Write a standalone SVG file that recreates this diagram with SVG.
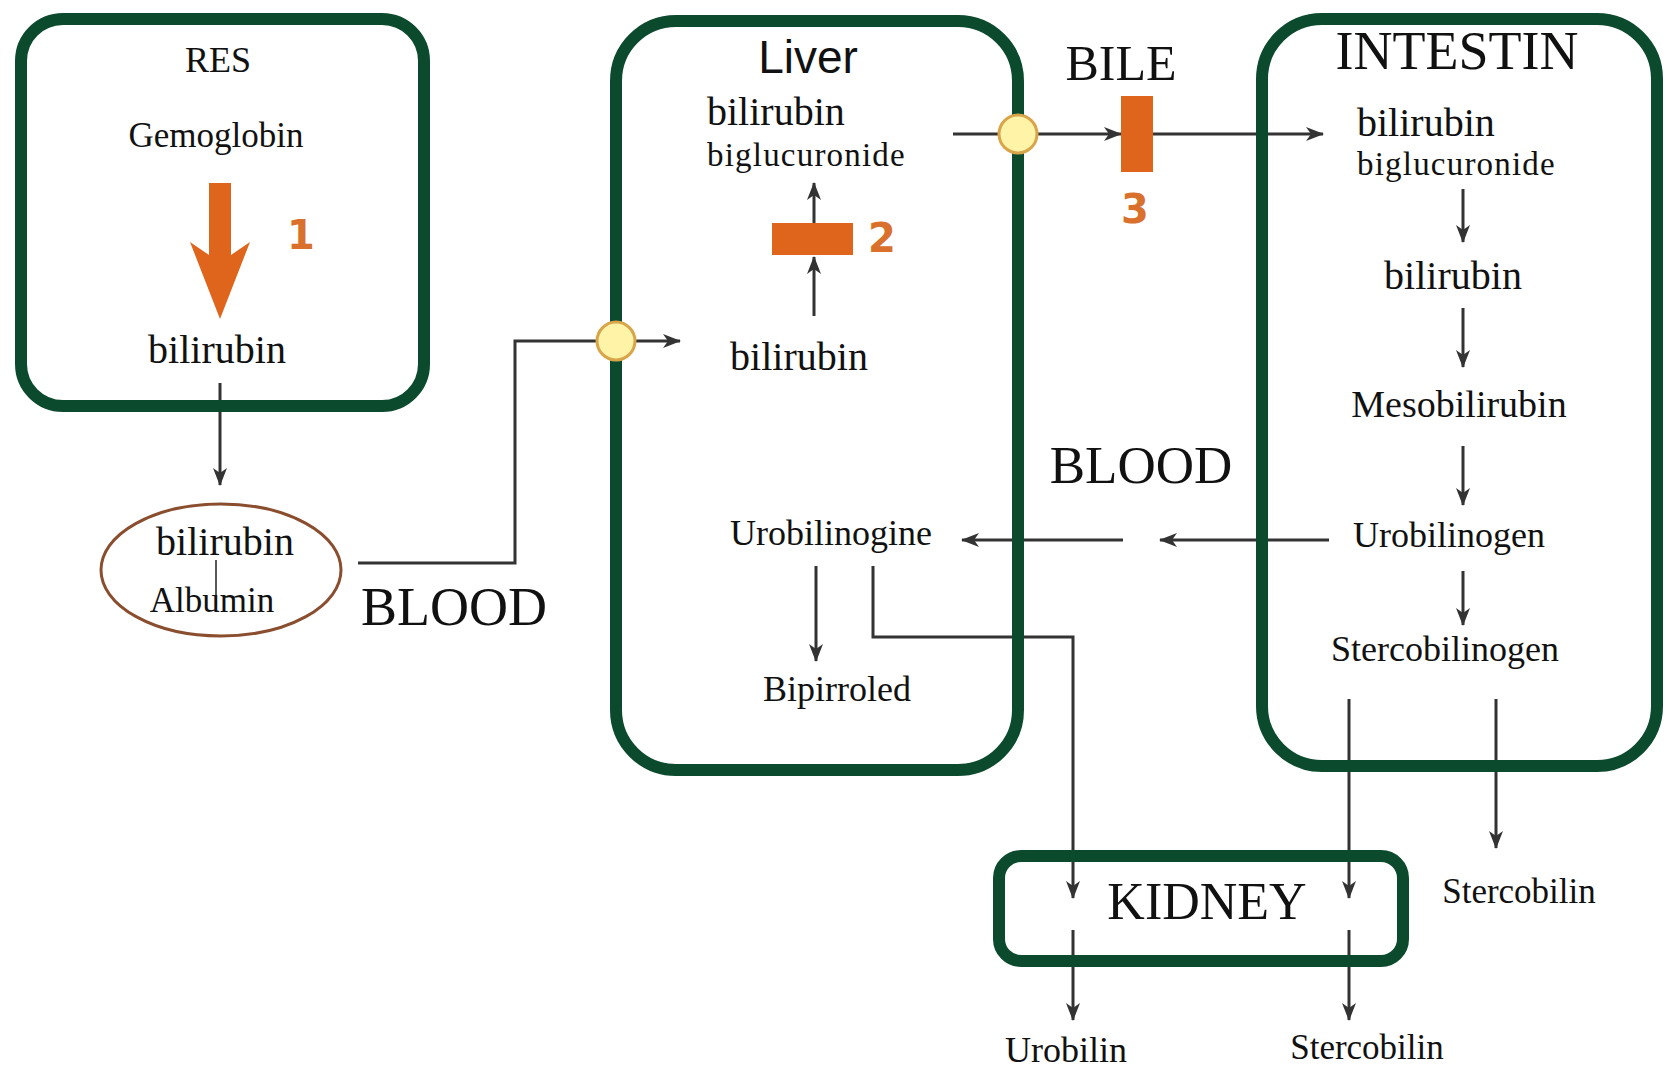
<svg xmlns="http://www.w3.org/2000/svg" width="1666" height="1068" viewBox="0 0 1666 1068">
<defs>
<marker id="ah" viewBox="0 0 18 14" refX="17" refY="7" markerWidth="18" markerHeight="14" orient="auto" markerUnits="userSpaceOnUse"><path d="M0,0 L18,7 L0,14 L5,7 z" fill="#333"/></marker>
<style>
.box{fill:none;stroke:#0c4a2e;stroke-width:12}
.t{font-family:"Liberation Serif","Times New Roman",serif;fill:#111;text-anchor:middle}
.s{text-anchor:start}
.c{fill:none;stroke:#333;stroke-width:3}
.a{fill:none;stroke:#333;stroke-width:3;marker-end:url(#ah)}
.num{font-family:"DejaVu Sans",Verdana,sans-serif;font-weight:bold;fill:#d9702c;text-anchor:middle}
.or{fill:#e0651c}
.port{fill:#fff3a8;stroke:#d9a54a;stroke-width:3}
</style>
</defs>
<rect width="1666" height="1068" fill="#fff"/>

<g id="connectors">
<path class="a" d="M220,383 V485"/>
<path class="a" d="M358,563 H515 V341 H680"/>
<path class="a" d="M814,316 V257"/>
<path class="a" d="M814,223 V183"/>
<path class="a" d="M953,134 H1121"/>
<path class="a" d="M1153,134 H1323"/>
<path class="a" d="M1329,540 H1160"/>
<path class="a" d="M1123,540 H962"/>
<path class="a" d="M816,566 V661"/>
<path class="a" d="M873,566 V637 H1073 V898"/>
<path class="a" d="M1463,189 V242"/>
<path class="a" d="M1463,308 V367"/>
<path class="a" d="M1463,446 V505"/>
<path class="a" d="M1463,571 V625"/>
<path class="a" d="M1349,699 V898"/>
<path class="a" d="M1496,699 V848"/>
<path class="a" d="M1073,930 V1020"/>
<path class="a" d="M1349,930 V1020"/>
</g>

<g id="res">
<rect class="box" x="21" y="19" width="403" height="387" rx="42"/>
<text class="t" x="218" y="72" font-size="36">RES</text>
<text class="t" x="216" y="147" font-size="35">Gemoglobin</text>
<path class="or" d="M209,183 H231 V255 L250,242 L220,319 L190,242 L209,255 Z"/>
<text class="num" x="301" y="249" font-size="40">1</text>
<text class="t" x="217" y="363" font-size="40">bilirubin</text>
</g>

<g id="albumin">
<ellipse cx="221" cy="570" rx="120" ry="66" fill="#fff" stroke="#8a4e2e" stroke-width="3"/>
<text class="t" x="225" y="555" font-size="40">bilirubin</text>
<line x1="216" y1="560" x2="216" y2="607" stroke="#222" stroke-width="1.5"/>
<text class="t" x="212" y="612" font-size="35">Albumin</text>
</g>

<text class="t" x="454" y="625" font-size="54">BLOOD</text>

<g id="liver">
<rect class="box" x="616" y="21" width="402" height="749" rx="60"/>
<text x="808" y="73" font-size="46" font-family="'Liberation Sans',Arial,sans-serif" fill="#111" text-anchor="middle">Liver</text>
<text class="t s" x="707" y="125" font-size="40">bilirubin</text>
<text class="t s" x="707" y="166" font-size="33" letter-spacing="1.2">biglucuronide</text>
<rect class="or" x="772" y="223" width="81" height="32"/>
<text class="num" x="882" y="252" font-size="40">2</text>
<text class="t" x="799" y="370" font-size="40">bilirubin</text>
<text class="t" x="831" y="545" font-size="36">Urobilinogine</text>
<text class="t" x="837" y="701" font-size="36">Bipirroled</text>
<circle class="port" cx="616" cy="341" r="19"/>
<circle class="port" cx="1018" cy="134" r="19"/>
</g>

<g id="bile">
<text class="t" x="1121" y="80" font-size="50">BILE</text>
<rect class="or" x="1121" y="96" width="32" height="76"/>
<text class="num" x="1135" y="223" font-size="40">3</text>
</g>

<text class="t" x="1141" y="483" font-size="53">BLOOD</text>

<g id="intestin">
<rect class="box" x="1262" y="19" width="395" height="747" rx="60"/>
<text class="t" x="1457" y="69" font-size="54">INTESTIN</text>
<text class="t s" x="1357" y="136" font-size="40">bilirubin</text>
<text class="t s" x="1357" y="175" font-size="33" letter-spacing="1.2">biglucuronide</text>
<text class="t" x="1453" y="289" font-size="40">bilirubin</text>
<text class="t" x="1459" y="417" font-size="38">Mesobilirubin</text>
<text class="t" x="1449" y="547" font-size="36">Urobilinogen</text>
<text class="t" x="1445" y="661" font-size="36">Stercobilinogen</text>
</g>

<g id="kidney">
<rect class="box" x="999" y="856" width="404" height="105" rx="22"/>
<text class="t" x="1207" y="919" font-size="52">KIDNEY</text>
</g>

<text class="t" x="1519" y="903" font-size="35">Stercobilin</text>
<text class="t" x="1066" y="1062" font-size="36">Urobilin</text>
<text class="t" x="1367" y="1059" font-size="35">Stercobilin</text>
</svg>
